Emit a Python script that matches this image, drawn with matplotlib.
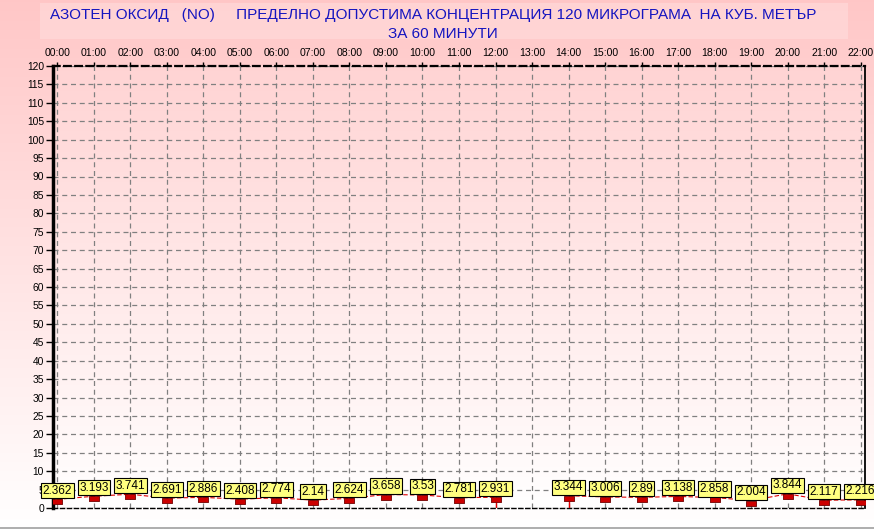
import numpy as np
import matplotlib
matplotlib.use("Agg")
import matplotlib.pyplot as plt
from matplotlib.patches import Rectangle
from matplotlib.lines import Line2D

plt.rcParams['font.family'] = ['Liberation Sans', 'DejaVu Sans']

# ---- data ----
hour_labels = ['00:00', '01:00', '02:00', '03:00', '04:00', '05:00', '06:00', '07:00',
               '08:00', '09:00', '10:00', '11:00', '12:00', '13:00', '14:00', '15:00',
               '16:00', '17:00', '18:00', '19:00', '20:00', '21:00', '22:00']
no_values = [2.362, 3.193, 3.741, 2.691, 2.886, 2.408, 2.774, 2.14, 2.624, 3.658, 3.53,
             2.781, 2.931, np.nan, 3.344, 3.006, 2.89, 3.138, 2.858, 2.004, 3.844, 2.117, 2.216]
y_ticks = list(range(0, 121, 5))
title_line1 = "АЗОТЕН ОКСИД   (NO)     ПРЕДЕЛНО ДОПУСТИМА КОНЦЕНТРАЦИЯ 120 МИКРОГРАМА  НА КУБ. МЕТЪР"
title_line2 = "ЗА 60 МИНУТИ"

W, H = 874, 529
fig = plt.figure(figsize=(W / 100, H / 100), dpi=100)

# ---- background gradient ----
bg = fig.add_axes([0, 0, 1, 1], zorder=-10)
g = np.linspace(0, 1, 256)[:, None, None]
top_c = np.array([1.0, 0.78, 0.78])
bot_c = np.array([1.0, 1.0, 1.0])
img = top_c * (1 - g) + bot_c * g
bg.imshow(img, aspect='auto', extent=[0, 1, 0, 1], origin='upper')
bg.set_xlim(0, 1); bg.set_ylim(0, 1)
bg.axis('off')

# title box
fig.add_artist(Rectangle((40 / W, 1 - 39 / H), (848 - 40) / W, 36 / H,
                         transform=fig.transFigure, facecolor='white', alpha=0.22,
                         edgecolor='none', zorder=-5))
# bottom grey line
fig.add_artist(Line2D([0, 1], [1.5 / H, 1.5 / H], transform=fig.transFigure,
                      color='#A0A0A0', lw=1.2))

fig.text(433 / W, 1 - 18.5 / H, title_line1, ha='center', va='baseline',
         color='#1414C0', fontsize=11)
fig.text(443 / W, 1 - 37.5 / H, title_line2, ha='center', va='baseline',
         color='#1414C0', fontsize=11)

# ---- main axes ----
ax = fig.add_axes([53 / W, 1 - 508 / H, (865 - 53) / W, (508 - 66) / H])
x = np.arange(len(no_values))
xmin, xmax = -0.12, 22.12

pg = np.linspace(0, 1, 256)[:, None, None]
p_top = np.array([1.0, 0.83, 0.83])
p_bot = np.array([1.0, 1.0, 1.0])
pimg = p_top * (1 - pg) + p_bot * pg
ax.imshow(pimg, aspect='auto', extent=[xmin, xmax, 0, 120], origin='upper', zorder=0)
ax.patch.set_visible(False)

ax.set_xlim(xmin, xmax)
ax.set_ylim(0, 120)

ax.xaxis.tick_top()
ax.set_xticks(x)
ax.set_xticklabels(hour_labels)
ax.set_yticks(y_ticks)
ax.set_yticklabels([str(t) for t in y_ticks])
ax.tick_params(axis='x', top=True, bottom=False, length=3, pad=2.5, labelsize=7.6, width=1)
ax.tick_params(axis='y', length=5, pad=1.5, labelsize=7.4, width=1)

ax.grid(True, color='#808080', linestyle=(0, (4, 3)), lw=0.9, zorder=1)
ax.set_axisbelow(True)

for s in ['left', 'right', 'top', 'bottom']:
    ax.spines[s].set_color('black')
ax.spines['left'].set_linewidth(2.5)
ax.spines['right'].set_linewidth(1.3)
ax.spines['top'].set_linewidth(1.6)
ax.spines['top'].set_linestyle((0, (3, 2)))
ax.spines['bottom'].set_linewidth(1.0)
ax.spines['bottom'].set_linestyle((0, (3, 2)))

vals = np.array(no_values, dtype=float)
ax.plot(x, vals, color='#E00000', lw=0.8, ls=(0, (4, 2)), zorder=3)

# stems for points next to a gap
for i, v in enumerate(vals):
    if np.isnan(v):
        continue
    prev_nan = i > 0 and np.isnan(vals[i - 1])
    next_nan = i < len(vals) - 1 and np.isnan(vals[i + 1])
    if prev_nan or next_nan:
        ax.vlines(x[i], 0, v, color='#E00000', lw=1.0, zorder=3)

rect = [(-1, -1), (1, -1), (1, 0), (-1, 0), (-1, -1)]
ax.plot(x, vals, ls='none', marker=rect, ms=7, mfc='#CC0000', mec='#700000',
        mew=0.6, zorder=4)

for xi, v in zip(x, vals):
    if np.isnan(v):
        continue
    ax.annotate(f"{v:g}", (xi, v), xytext=(0, 1.8), textcoords='offset points',
                ha='center', va='bottom', fontsize=8.5, zorder=5,
                bbox=dict(boxstyle='square,pad=0.13', fc='#FFFF80', ec='black', lw=0.8))

fig.savefig('out.png', dpi=100)
